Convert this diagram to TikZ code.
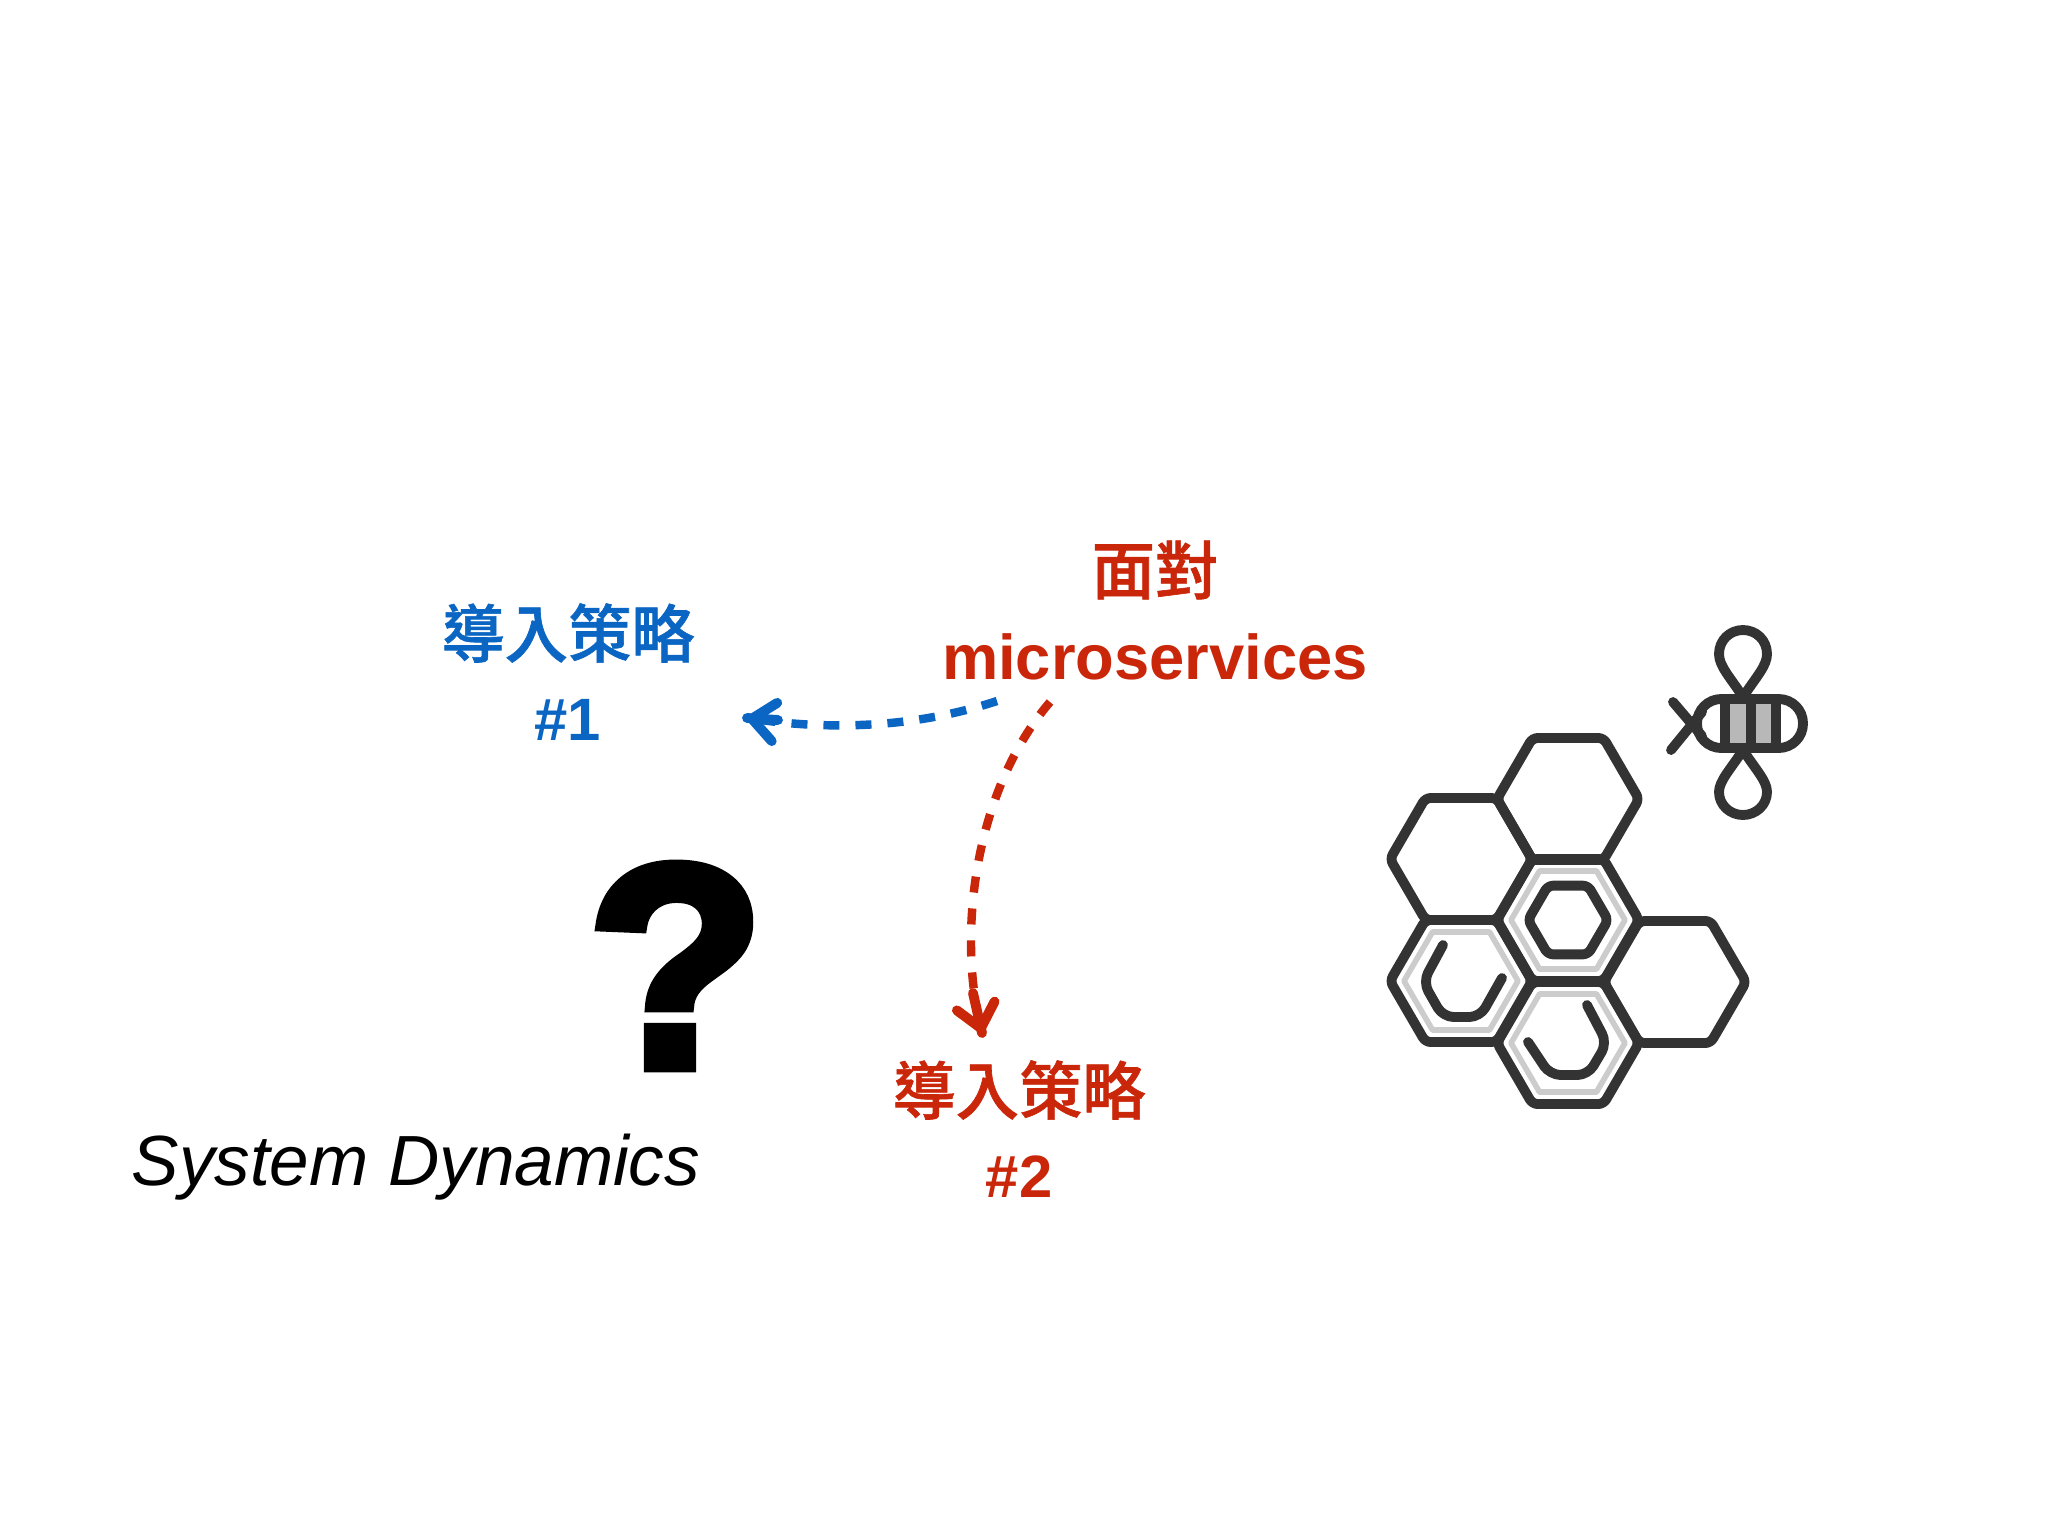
\documentclass[tikz,border=0pt]{standalone}
\usepackage{fontspec}
\setmainfont{Liberation Sans}
\newfontfamily\cjk{Noto Sans CJK TC Medium}[BoldFont={Noto Sans CJK TC Medium},BoldFeatures={FakeBold=1}]
\newfontfamily\questfont{Liberation Sans Bold}[FakeBold=4]
\usepackage{tikz}
\usetikzlibrary{
arrows.meta,
positioning
}
\definecolor{stratblue}{HTML}{0B66C3}
\definecolor{stratred}{HTML}{C9260A}
\definecolor{combdark}{HTML}{333333}
\tikzset{>=latex}
\tikzset{
	bluetext/.style={text=stratblue,font=\fontsize{18}{22}\selectfont\bfseries},
	redtext/.style={text=stratred,font=\fontsize{18}{22}\selectfont\bfseries},
	combline/.style={draw=combdark,line width=2.8pt,line join=round,rounded corners=1.5pt},
	wingline/.style={draw=combdark,line width=2.8pt,line join=round},
	combgap/.style={draw=black!20,line width=1.6pt,line join=round},
	dashflow/.style={line width=2.4pt,dash pattern=on 0.16cm off 0.16cm,-{Straight Barb[length=6.5pt,width=11pt,line width=2.8pt,round]}},
	stubflow/.style={line width=2.8pt,line cap=round}
}
\newcommand{\hexcell}[1]{(-#1,0) -- (-0.5*#1,-0.86*#1) -- (0.5*#1,-0.86*#1) -- (#1,0) -- (0.5*#1,0.86*#1) -- (-0.5*#1,0.86*#1) -- cycle}

\begin{document}
\begin{tikzpicture}[x=0.01cm,y=-0.01cm,node distance=0.87cm]
	\useasboundingbox (0,0) rectangle (2048,1536);

	% labels
	\node[redtext] (face) at (1155,570) {\cjk 面對};
	\node[redtext,below of=face] (micro) {microservices};
	\node[bluetext] (stratA) at (568,633) {\cjk 導入策略};
	\node[bluetext,below of=stratA,font=\fontsize{17}{22}\selectfont\bfseries] (numA) {\#1};
	\node[redtext] (stratB) at (1019,1090) {\cjk 導入策略};
	\node[redtext,below of=stratB,font=\fontsize{17}{22}\selectfont\bfseries] (numB) {\#2};
	\node[font=\fontsize{82}{90}\questfont] (quest) at (676,966) {?};
	\node[anchor=west,inner sep=0pt,font=\fontsize{20.2}{24}\selectfont\itshape] (sysdyn) at (131,1167) {System Dynamics};

	% arrows
	\coordinate (blueout) at (997,701);
	\coordinate (bluein)  at (747,718);
	\coordinate (bluestub) at (778,720);
	\coordinate (redout)  at (1050,702);
	\coordinate (redin)   at (982,1033);
	\coordinate (redstub) at (973,993);
	\draw[dashflow,stratblue] (blueout) .. controls (915,728) and (830,730) .. (bluein);
	\draw[stubflow,stratblue] (bluein) -- (bluestub);
	\draw[dashflow,stratred] (redout) .. controls (975,790) and (958,930) .. (redin);
	\draw[stubflow,stratred] (redin) -- (redstub);

	% comb
	\foreach \hx/\hy in {1568/799,1461/859,1675/982}
		\draw[combline,shift={(\hx,\hy)}] \hexcell{71};
	\foreach \hx/\hy in {1568/920,1461/981,1568/1043} {
		\draw[combgap,shift={(\hx,\hy)}] \hexcell{57};
		\draw[combline,shift={(\hx,\hy)}] \hexcell{71};
	}
	\draw[combline,shift={(1568,920)}] \hexcell{40};
	\draw[combline,rounded corners=3pt,line cap=round] (1443,945) -- (1423,982) -- (1443,1017) -- (1480,1017) -- (1502,978);
	\draw[combline,rounded corners=3pt,line cap=round] (1528,1042) -- (1550,1075) -- (1588,1075) -- (1607,1043) -- (1587,1005);

	% bee
	\fill[black!28] (1725,703) rectangle (1776,744);
	\draw[wingline] (1743,697) .. controls (1730,677) and (1719,666) .. (1719,654) .. controls (1719,640) and (1730,630) .. (1743,630) .. controls (1756,630) and (1767,640) .. (1767,654) .. controls (1767,666) and (1756,677) .. (1743,697);
	\draw[wingline] (1743,750) .. controls (1730,770) and (1719,781) .. (1719,792) .. controls (1719,805) and (1730,815) .. (1743,815) .. controls (1756,815) and (1767,805) .. (1767,792) .. controls (1767,781) and (1756,770) .. (1743,750);
	\draw[combline,rounded corners=6.9pt] (1697,699) rectangle (1803,748);
	\draw[combline] (1725,699) -- (1725,748);
	\draw[combline] (1751,699) -- (1751,748);
	\draw[combline] (1776,699) -- (1776,748);
	\draw[combline,line cap=round] (1673,702) -- (1702,736);
	\draw[combline,line cap=round] (1671,750) -- (1702,712);
\end{tikzpicture}
\end{document}
